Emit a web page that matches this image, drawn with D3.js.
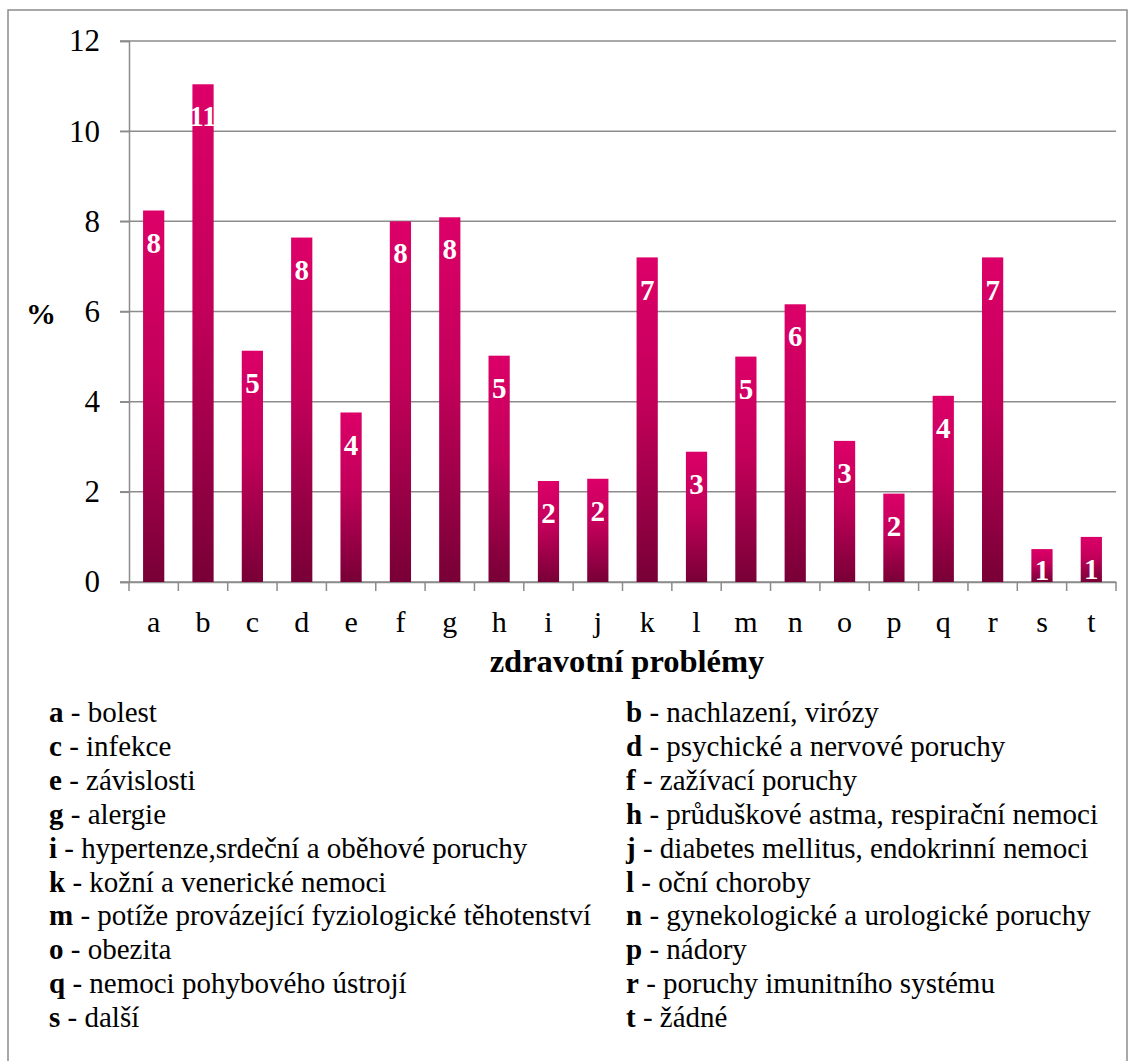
<!DOCTYPE html>
<meta charset="utf-8">
<style>
  body { margin: 0; background: #fff; }
  text { font-family: "Liberation Serif", "Times New Roman", serif; }
</style>
<body>
<script src="https://cdn.jsdelivr.net/npm/d3@7/dist/d3.min.js"></script>
<script>

    var codes = ["a","b","c","d","e","f","g","h","i","j","k","l","m","n","o","p","q","r","s","t"];
    var values = [8.24, 11.04, 5.13, 7.64, 3.76, 8.0, 8.09, 5.02, 2.24, 2.29,
                  7.2, 2.89, 5.0, 6.16, 3.13, 1.96, 4.13, 7.2, 0.73, 1.0];
    var yTicks = [0, 2, 4, 6, 8, 10, 12];
    var names = ["bolest", "nachlazení, virózy", "infekce", "psychické a nervové poruchy",
                 "závislosti", "zažívací poruchy", "alergie", "průduškové astma, respirační nemoci",
                 "hypertenze,srdeční a oběhové poruchy", "diabetes mellitus, endokrinní nemoci",
                 "kožní a venerické nemoci", "oční choroby",
                 "potíže provázející fyziologické těhotenství", "gynekologické a urologické poruchy",
                 "obezita", "nádory", "nemoci pohybového ústrojí", "poruchy imunitního systému",
                 "další", "žádné"];

    var width = 1129,
        height = 1061;

    var plotLeft = 129, plotRight = 1116, plotTop = 41, plotBottom = 582;

    var svg = d3.select("body").append("svg")
            .attr("width", width)
            .attr("height", height);

    // outer frame
    svg.append("rect")
        .attr("x", 8).attr("y", 10)
        .attr("width", 1119).attr("height", 1070)
        .attr("fill", "none")
        .attr("stroke", "#8c8c8c")
        .attr("stroke-width", 1.5);

    var x = d3.scaleBand()
            .domain(codes)
            .range([plotLeft, plotRight])
            .paddingInner(0.57)
            .paddingOuter(0.285);

    var y = d3.scaleLinear()
            .domain([0, 12])
            .range([plotBottom, plotTop]);

    var grad = svg.append("defs").append("linearGradient")
            .attr("id", "barGrad")
            .attr("x1", 0).attr("y1", 0).attr("x2", 0).attr("y2", 1);
    grad.append("stop").attr("offset", "0%").attr("stop-color", "#dc0068");
    grad.append("stop").attr("offset", "45%").attr("stop-color", "#c2005a");
    grad.append("stop").attr("offset", "100%").attr("stop-color", "#780036");

    // gridlines
    svg.append("g").selectAll("line")
        .data(yTicks)
        .enter().append("line")
        .attr("x1", plotLeft - 9).attr("x2", plotRight)
        .attr("y1", function(d) { return y(d); })
        .attr("y2", function(d) { return y(d); })
        .attr("stroke", "#8c8c8c")
        .attr("stroke-width", 1.5);

    // y axis
    var yAxis = svg.append("g")
        .attr("transform", "translate(" + plotLeft + ",0)")
        .call(d3.axisLeft(y).tickValues(yTicks).tickSize(9).tickPadding(20));
    yAxis.select(".domain").attr("stroke", "#8c8c8c").attr("stroke-width", 1.5);
    yAxis.selectAll(".tick line").attr("stroke", "#8c8c8c").attr("stroke-width", 1.5);
    yAxis.selectAll("text")
        .attr("font-size", 31)
        .attr("fill", "#000");

    // x axis
    var xAxis = svg.append("g")
        .attr("transform", "translate(0," + plotBottom + ")")
        .call(d3.axisBottom(x).tickSize(0).tickPadding(29));
    xAxis.select(".domain").attr("stroke", "#8c8c8c").attr("stroke-width", 1.5);
    xAxis.selectAll("text")
        .attr("font-size", 30)
        .attr("fill", "#000");

    // category separators on x axis
    svg.append("g").selectAll("line")
        .data(d3.range(codes.length + 1))
        .enter().append("line")
        .attr("x1", function(i) { return plotLeft + i * x.step(); })
        .attr("x2", function(i) { return plotLeft + i * x.step(); })
        .attr("y1", plotBottom).attr("y2", plotBottom + 9)
        .attr("stroke", "#8c8c8c")
        .attr("stroke-width", 1.5);

    // bars
    svg.append("g").selectAll("rect")
        .data(values)
        .enter().append("rect")
        .attr("x", function(d, i) { return x(codes[i]); })
        .attr("width", x.bandwidth())
        .attr("y", function(d) { return y(d); })
        .attr("height", function(d) { return y(0) - y(d); })
        .attr("fill", "url(#barGrad)");

    // value labels
    svg.append("g").selectAll("text")
        .data(values)
        .enter().append("text")
        .attr("x", function(d, i) { return x(codes[i]) + x.bandwidth() / 2; })
        .attr("y", function(d) { return Math.min(y(d) + 32, plotBottom - 12); })
        .attr("dy", "0.35em")
        .attr("text-anchor", "middle")
        .attr("font-size", 29)
        .attr("font-weight", "bold")
        .attr("fill", "#fff")
        .text(function(d) { return Math.round(d); });

    // axis titles
    svg.append("text")
        .attr("x", 41).attr("y", 313)
        .attr("dy", "0.35em")
        .attr("text-anchor", "middle")
        .attr("font-size", 30)
        .attr("font-weight", "bold")
        .text("%");

    svg.append("text")
        .attr("x", 627).attr("y", 672)
        .attr("text-anchor", "middle")
        .attr("font-size", 32.5)
        .attr("font-weight", "bold")
        .text("zdravotní problémy");

    // legend in two columns
    var legend = svg.append("g").selectAll("text")
        .data(codes)
        .enter().append("text")
        .attr("x", function(d, i) { return i % 2 === 0 ? 49 : 626; })
        .attr("y", function(d, i) { return 722 + Math.floor(i / 2) * 33.9; })
        .attr("font-size", 29);

    legend.append("tspan")
        .attr("font-weight", "bold")
        .text(function(d) { return d; });
    legend.append("tspan")
        .text(function(d, i) { return " - " + names[i]; });

</script>
